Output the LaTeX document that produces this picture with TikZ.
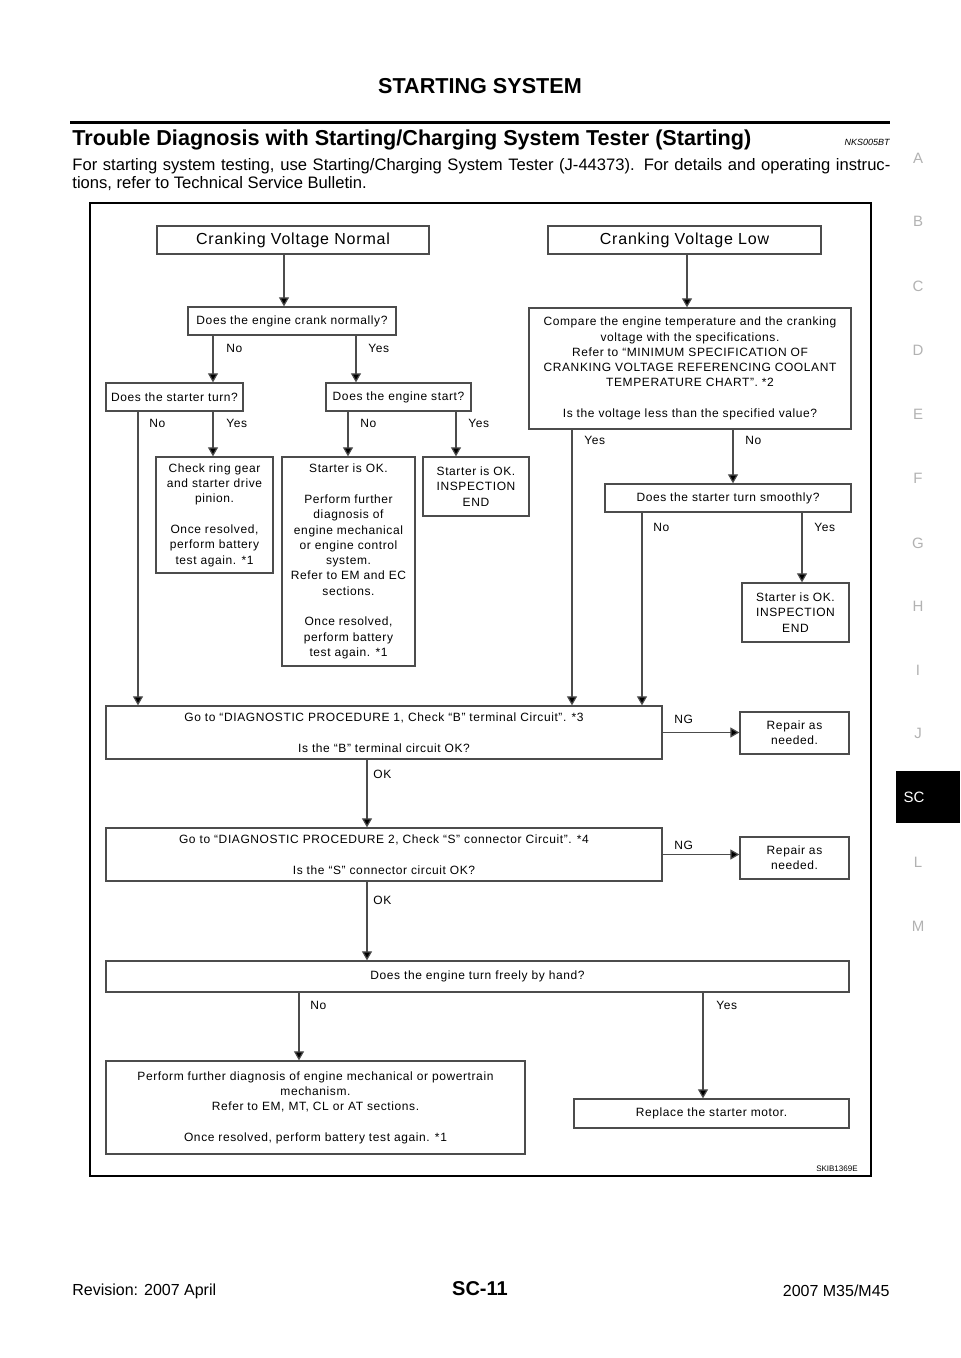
\documentclass[tikz,border=0pt]{standalone}
\usepackage{fontspec}
\setmainfont{Liberation Sans}
\newfontfamily\chartfont[LetterSpace=5]{Liberation Sans}
\usetikzlibrary{arrows.meta}

% box from its corners (in pixels of the page)
\newcommand{\chartbox}[7][box]{%
  \node[#1, minimum width={(#5-#3)*0.5pt}, minimum height={(#6-#4)*0.5pt}]
    (#2) at ({(#3+#5)/2},{(#4+#6)/2}) {#7};}

\begin{document}
\begin{tikzpicture}[x=0.5pt, y=-0.5pt,
    box/.style={draw=black!70, line width=0.65pt, inner sep=0pt, align=center,
      font=\chartfont\fontsize{6}{7.65}\selectfont},
    bigbox/.style={box, font=\chartfont\fontsize{8}{9.6}\selectfont},
    arrow/.style={draw=black!70, line width=0.6pt, -{Triangle[width=5pt,length=4.5pt,fill=black]}},
    lbl/.style={anchor=west, inner sep=0pt, font=\chartfont\fontsize{6}{7.65}\selectfont},
    tab/.style={text=black!30, font=\fontsize{7.5}{9}\selectfont}]
        \useasboundingbox[fill=white] (0,0) rectangle (960,1358);

        % Page head
        \node[font=\fontsize{10.8}{12}\bfseries] (head) at (480,86) {STARTING SYSTEM};
        \draw[line width=1.5pt] (70,123) -- (890,123);
        \node[anchor=base west, inner sep=0pt, font=\fontsize{10.8}{12}\bfseries] (title) at (72,146)
            {Trouble Diagnosis with Starting/Charging System Tester (Starting)};
        \node[anchor=base east, inner sep=0pt, font=\fontsize{4.5}{5}\itshape] (code) at (890,146) {NKS005BT};
        \node[anchor=base west, inner sep=0pt, font=\fontsize{8.3}{10}\selectfont] (introa) at (72,171)
            {\makebox[409pt][s]{For starting system testing, use Starting/Charging System Tester (J-44373). For details and operating instruc-}};
        \node[anchor=base west, inner sep=0pt, font=\fontsize{8.3}{10}\selectfont] (introb) at (72,189)
            {tions, refer to Technical Service Bulletin.};

        % Section tabs
        \foreach \t/\y in {A/158,B/221,C/286,D/350,E/414,F/478,G/543,H/606,I/670,J/733,L/862,M/926} {
            \node[tab] (tab\t) at (918,\y) {\t};
        }
        \fill[black] (896,771) rectangle (960,823);
        \node[tab, text=white] (tabSC) at (914,797) {SC};

        % Frame
        \draw[line width=1pt] (90,203) rectangle (871,1176);

        % Boxes
        \chartbox[bigbox]{normal}{157}{226}{429}{254}{Cranking Voltage Normal}
        \chartbox[bigbox]{low}{548}{226}{821}{254}{Cranking Voltage Low}
        \chartbox{crank}{188}{307}{396}{335}{Does the engine crank normally?}
        \chartbox{compare}{529}{308}{851}{429}{Compare the engine temperature and the cranking\\
            voltage with the specifications.\\ Refer to “MINIMUM SPECIFICATION OF\\
            CRANKING VOLTAGE REFERENCING COOLANT\\ TEMPERATURE CHART”. *2\\[7.65pt]
            Is the voltage less than the specified value?}
        \chartbox{turn}{106}{383}{243}{411}{Does the starter turn?}
        \chartbox{start}{326}{383}{471}{411}{Does the engine start?}
        \chartbox{ring}{156}{457}{273}{573}{Check ring gear\\ and starter drive\\ pinion.\\[7.65pt]
            Once resolved,\\ perform battery\\ test again. *1}
        \chartbox{further}{282}{457}{415}{666}{Starter is OK.\\[7.65pt] Perform further\\ diagnosis of\\
            engine mechanical\\ or engine control\\ system.\\ Refer to EM and EC\\ sections.\\[7.65pt]
            Once resolved,\\ perform battery\\ test again. *1}
        \chartbox{okend}{423}{457}{529}{516}{Starter is OK.\\ INSPECTION\\ END}
        \chartbox{smooth}{605}{484}{851}{512}{Does the starter turn smoothly?}
        \chartbox{okendb}{742}{583}{849}{642}{Starter is OK.\\ INSPECTION\\ END}
        \chartbox{dpone}{106}{706}{662}{759}{Go to “DIAGNOSTIC PROCEDURE 1, Check “B” terminal Circuit”. *3\\[7.65pt]
            Is the “B” terminal circuit OK?}
        \chartbox{repairone}{740}{712}{849}{754}{Repair as\\ needed.}
        \chartbox{dptwo}{106}{828}{662}{881}{Go to “DIAGNOSTIC PROCEDURE 2, Check “S” connector Circuit”. *4\\[7.65pt]
            Is the “S” connector circuit OK?}
        \chartbox{repairtwo}{740}{837}{849}{879}{Repair as\\ needed.}
        \chartbox{freely}{106}{961}{849}{992}{Does the engine turn freely by hand?}
        \chartbox{perform}{106}{1061}{525}{1154}{Perform further diagnosis of engine mechanical or powertrain\\
            mechanism.\\ Refer to EM, MT, CL or AT sections.\\[7.65pt] Once resolved, perform battery test again. *1}
        \chartbox{replace}{574}{1099}{849}{1128}{Replace the starter motor.}

        % Downward connectors (from box / to box / x of the line)
        \foreach \a/\b/\x in {normal/crank/284, low/compare/687, crank/turn/213, crank/start/356,
            turn/ring/213, turn/dpone/138, start/further/348, start/okend/456, compare/dpone/572,
            compare/smooth/733, smooth/dpone/642, smooth/okendb/802, dpone/dptwo/367,
            dptwo/freely/367, freely/perform/299, freely/replace/703} {
            \coordinate (xline) at (\x,0);
            \draw[arrow] (\a.south -| xline) -- (\b.north -| xline);
        }
        % NG connectors
        \draw[arrow] (dpone.east) -- (dpone.east -| repairone.west);
        \draw[arrow] (dptwo.east) -- (dptwo.east -| repairtwo.west);

        % Answers
        \foreach \n/\x/\y/\t in {ca/226/348/No, cb/368/348/Yes, ta/149/423/No, tb/226/423/Yes,
            sa/360/423/No, sb/468/423/Yes, pa/584/440/Yes, pb/745/440/No, ma/653/527/No,
            mb/814/527/Yes, ga/674/719/NG, gb/674/845/NG, ka/373/774/OK, kb/373/900/OK,
            fa/310/1005/No, fb/716/1005/Yes} {
            \node[lbl] (ans\n) at (\x,\y) {\t};
        }
        \node[anchor=east, inner sep=0pt, font=\fontsize{4}{5}\selectfont] (fig) at (858,1169) {SKIB1369E};

        % Page foot
        \node[anchor=west, inner sep=0pt, font=\fontsize{8}{10}\selectfont] (rev) at (72,1291) {Revision: 2007 April};
        \node[font=\fontsize{10}{12}\bfseries] (page) at (480,1289) {SC-11};
        \node[anchor=east, inner sep=0pt, font=\fontsize{8}{10}\selectfont] (model) at (890,1291) {2007 M35/M45};
\end{tikzpicture}
\end{document}
